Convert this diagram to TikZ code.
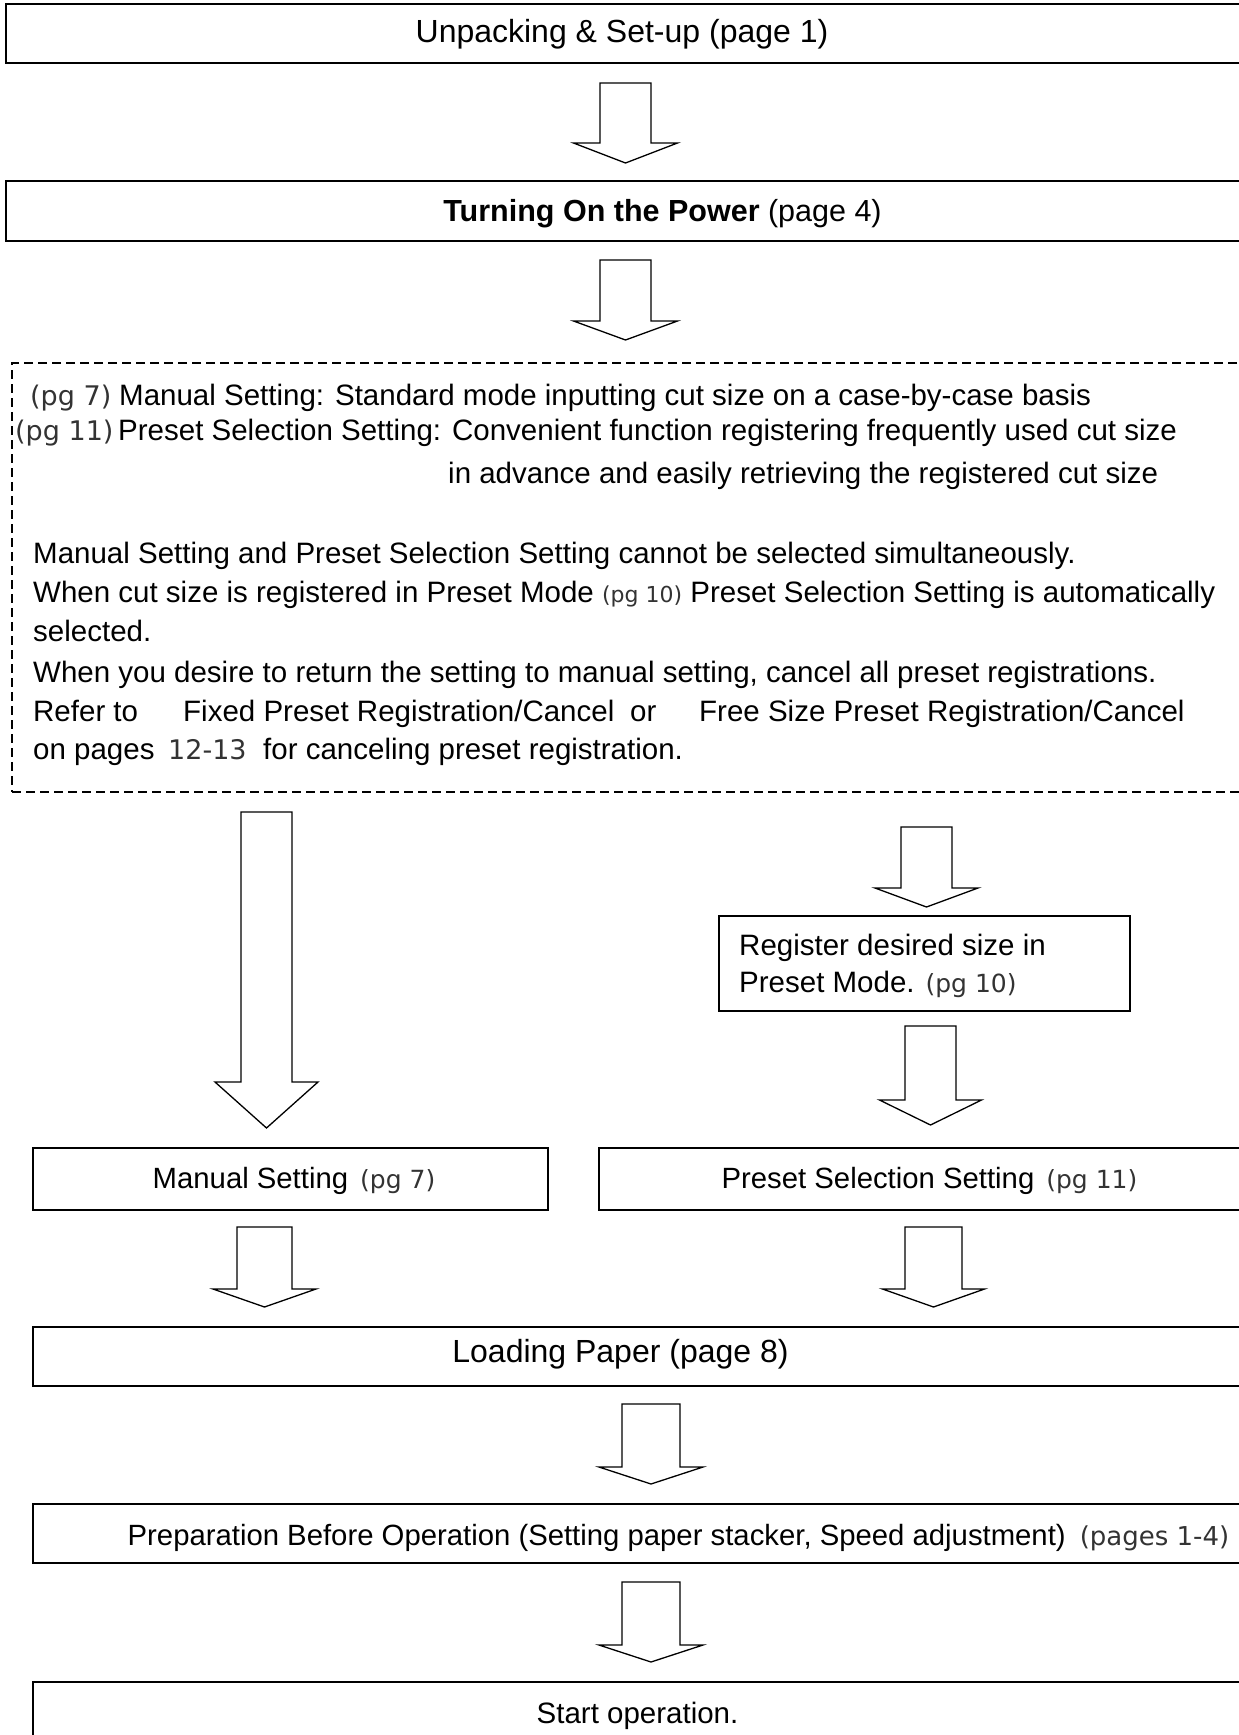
\documentclass[tikz,border=0pt]{standalone}
\usepackage{fontspec}
\setmainfont{Liberation Sans}
\newfontfamily\pagefont{DejaVu Sans}
\usetikzlibrary{calc}
\definecolor{pgc}{HTML}{333333}
\newcommand{\fs}[1]{\fontsize{#1}{#1}\selectfont}
\newcommand{\pgs}[2]{{\pagefont\fontsize{#1}{#1}\selectfont\color{pgc}#2}}
% #1 start coordinate, #2 tip coordinate, #3 shaft half width, #4 head half width, #5 head length
\newcommand{\blockarrow}[5]{%
  \draw[barrowstyle] ($(#1)+(-#3,0)$) -- ($(#2)+(-#3,-#5)$) -- ($(#2)+(-#4,-#5)$) -- (#2)
    -- ($(#2)+(#4,-#5)$) -- ($(#2)+(#3,-#5)$) -- ($(#1)+(#3,0)$) -- cycle;}
\begin{document}
\begin{tikzpicture}[x=1pt,y=-1pt,
  box/.style={draw, line width=1.7pt, inner sep=0pt},
  dbox/.style={draw, line width=1.3pt, dash pattern=on 9pt off 5pt, inner sep=0pt},
  txt/.style={inner sep=0pt, anchor=base west, font=\fs{29.5}},
  ctxt/.style={inner sep=0pt, anchor=base},
  barrowstyle/.style={draw, line width=1.3pt, fill=white, line join=miter}]
\useasboundingbox (0,0) rectangle (1239,1735);
\clip (0,0) rectangle (1239,1735);
\fill[white] (0,0) rectangle (1239,1735);

% top part
\node[box, minimum width=1244pt, minimum height=59pt] (b1) at (628,33.5) {};
\node[ctxt, font=\fs{32}] (t1) at (622,42) {Unpacking \& Set-up (page 1)};
\coordinate (a1s) at (625.5,83); \coordinate (a1t) at (625.5,163);
\blockarrow{a1s}{a1t}{25.5}{52}{20}
\node[box, minimum width=1244pt, minimum height=60pt] (b2) at (628,211) {};
\node[ctxt, font=\fs{30.5}] (t2) at (662.5,221) {\textbf{Turning On the Power} (page 4)};
\coordinate (a2s) at (625.5,260); \coordinate (a2t) at (625.5,340);
\blockarrow{a2s}{a2t}{25.5}{52}{19}

% dashed explanation box
\node[dbox, minimum width=1238pt, minimum height=429pt] (d) at (631,577.5) {};
\node[txt] (l1a) at (30,405) {\pgs{27}{(pg 7)}};
\node[txt] (l1b) at (119,405) {Manual Setting: Standard mode inputting cut size on a case-by-case basis};
\node[txt] (l2a) at (15,440) {\pgs{27}{(pg 11)}};
\node[txt] (l2b) at (118,440) {Preset Selection Setting: Convenient function registering frequently used cut size};
\node[txt] (l3) at (448,483) {in advance and easily retrieving the registered cut size};
\node[txt] (l4) at (33,563) {Manual Setting and Preset Selection Setting cannot be selected simultaneously.};
\node[txt] (l5) at (33,602) {When cut size is registered in Preset Mode \pgs{22}{(pg 10)} Preset Selection Setting is automatically};
\node[txt] (l6) at (33,641) {selected.};
\node[txt] (l7) at (33,682) {When you desire to return the setting to manual setting, cancel all preset registrations.};
\node[txt] (l8a) at (33,721) {Refer to};
\node[txt] (l8b) at (183,721) {Fixed Preset Registration/Cancel};
\node[txt] (l8c) at (630,721) {or};
\node[txt] (l8d) at (699,721) {Free Size Preset Registration/Cancel};
\node[txt] (l9a) at (33,759) {on pages};
\node[txt] (l9b) at (168,759) {\pgs{27}{12-13}};
\node[txt] (l9c) at (263,759) {for canceling preset registration.};

% branches
\coordinate (a3s) at (266.5,812); \coordinate (a3t) at (266.5,1128);
\blockarrow{a3s}{a3t}{25.5}{51.5}{46}
\coordinate (a4s) at (926.5,827); \coordinate (a4t) at (926.5,907);
\blockarrow{a4s}{a4t}{25.5}{51.5}{19}
\node[box, minimum width=411pt, minimum height=95pt] (reg) at (924.5,963.5) {};
\node[txt] (rg1) at (739,955) {Register desired size in};
\node[txt] (rg2) at (739,992) {Preset Mode. \pgs{25}{(pg 10)}};
\coordinate (a5s) at (930.5,1026); \coordinate (a5t) at (930.5,1125);
\blockarrow{a5s}{a5t}{25.5}{51}{25}

\node[box, minimum width=515pt, minimum height=62pt] (man) at (290.5,1179) {};
\node[ctxt, font=\fs{29.3}] (mant) at (294,1188) {Manual Setting\hspace{12pt}\pgs{25}{(pg 7)}};
\node[box, minimum width=662pt, minimum height=62pt] (pre) at (930,1179) {};
\node[ctxt, font=\fs{29.3}] (pret) at (929.5,1188) {Preset Selection Setting\hspace{12pt}\pgs{25}{(pg 11)}};

\coordinate (a6s) at (264.5,1227); \coordinate (a6t) at (264.5,1307);
\blockarrow{a6s}{a6t}{27.5}{51.5}{18}
\coordinate (a7s) at (933.5,1227); \coordinate (a7t) at (933.5,1307);
\blockarrow{a7s}{a7t}{28.5}{51}{18}

% bottom part
\node[box, minimum width=1217pt, minimum height=59pt] (load) at (641.5,1356.5) {};
\node[ctxt, font=\fs{32}] (loadt) at (620.5,1362) {Loading Paper (page 8)};
\coordinate (a8s) at (651,1404); \coordinate (a8t) at (651,1484);
\blockarrow{a8s}{a8t}{29}{52}{17}
\node[box, minimum width=1217pt, minimum height=59pt] (prep) at (641.5,1533.5) {};
\node[ctxt, font=\fs{29.3}] (prept) at (678.5,1545) {Preparation Before Operation (Setting paper stacker, Speed adjustment)\hspace{14pt}\pgs{26}{(pages 1-4)}};
\coordinate (a9s) at (651,1582); \coordinate (a9t) at (651,1662);
\blockarrow{a9s}{a9t}{29}{52}{17}
\node[box, minimum width=1217pt, minimum height=63pt] (start) at (641.5,1713.5) {};
\node[ctxt, font=\fs{29.5}] (startt) at (637.5,1723) {Start operation.};
\end{tikzpicture}
\end{document}
